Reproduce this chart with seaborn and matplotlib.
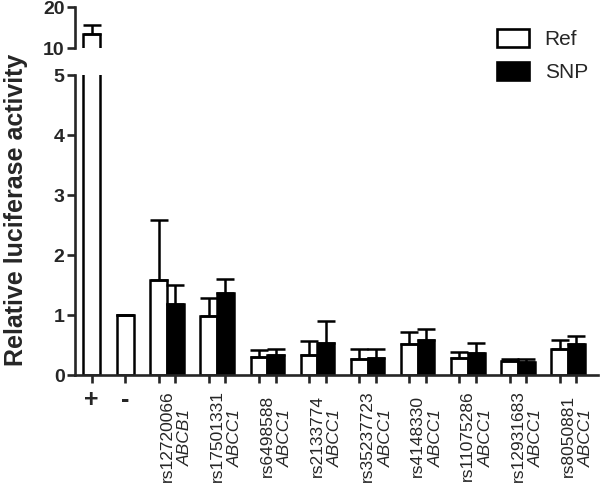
import numpy as np
import pandas as pd
import matplotlib
matplotlib.use("Agg")
import matplotlib.pyplot as plt
import seaborn as sns
from matplotlib.patches import Patch

# controls
ctrl_labels = ["+", "-"]
ctrl_values = [13.4, 1.0]
ctrl_err_top = [15.7, 1.0]

# SNP pairs
snp_ids = ["rs12720066", "rs17501331", "rs6498588", "rs2133774", "rs35237723",
           "rs4148330", "rs11075286", "rs12931683", "rs8050881"]
genes = ["ABCB1", "ABCC1", "ABCC1", "ABCC1", "ABCC1",
         "ABCC1", "ABCC1", "ABCC1", "ABCC1"]
ref_values = [1.58, 0.99, 0.30, 0.33, 0.27, 0.51, 0.29, 0.23, 0.43]
ref_err_top = [2.58, 1.28, 0.41, 0.57, 0.43, 0.72, 0.38, 0.27, 0.58]
snp_values = [1.19, 1.36, 0.34, 0.53, 0.28, 0.59, 0.37, 0.22, 0.52]
snp_err_top = [1.50, 1.60, 0.43, 0.90, 0.43, 0.76, 0.53, 0.27, 0.65]

# x positions: controls at 0 and 2, then pairs with a gap
ctrl_pos = [0, 2]
ref_pos = [4 + 3 * i for i in range(len(snp_ids))]
snp_pos = [p + 1 for p in ref_pos]

rows = []
for p, v in zip(ctrl_pos, ctrl_values):
    rows.append({"pos": p, "value": v, "kind": "Ref"})
for p, v in zip(ref_pos, ref_values):
    rows.append({"pos": p, "value": v, "kind": "Ref"})
for p, v in zip(snp_pos, snp_values):
    rows.append({"pos": p, "value": v, "kind": "SNP"})
df = pd.DataFrame(rows)

err_pos = ctrl_pos + ref_pos + snp_pos
err_val = ctrl_values + ref_values + snp_values
err_top = ctrl_err_top + ref_err_top + snp_err_top
err_up = [t - v for t, v in zip(err_top, err_val)]

sns.set_style("ticks")
plt.rcParams["font.family"] = ["Liberation Sans", "DejaVu Sans"]
plt.rcParams["axes.linewidth"] = 1.9

fig = plt.figure(figsize=(6, 4.83), dpi=100)
ax_lo = fig.add_axes([0.125, 0.2236, 0.872, 0.6211])
ax_hi = fig.add_axes([0.125, 0.9006, 0.872, 0.0849], sharex=ax_lo)

for ax in (ax_lo, ax_hi):
    sns.barplot(data=df, x="pos", y="value", hue="kind", native_scale=True,
                dodge=False, palette={"Ref": "white", "SNP": "black"},
                edgecolor="black", linewidth=1.8, width=1.0, errorbar=None,
                legend=False, ax=ax)
    ax.errorbar(err_pos, err_val, yerr=[np.zeros(len(err_up)), err_up],
                fmt="none", ecolor="black", elinewidth=1.8, capsize=6.5,
                capthick=1.8, zorder=1)
    ax.set_xlim(-1.0, 30.3)
    ax.set_xlabel("")
    ax.set_ylabel("")
    sns.despine(ax=ax)
    ax.tick_params(axis="y", direction="out", length=5.5, width=1.9,
                   labelsize=14, pad=2)

ax_lo.set_ylim(0, 5)
ax_lo.set_yticks([0, 1, 2, 3, 4, 5])
ax_lo.set_yticklabels(["0", "1", "2", "3", "4", "5"], fontweight="bold")
ax_hi.set_ylim(10, 20)
ax_hi.set_yticks([10, 20])
ax_hi.set_yticklabels(["10", "20"], fontweight="bold")
ax_hi.spines["bottom"].set_visible(False)
ax_hi.tick_params(axis="x", bottom=False, labelbottom=False)

# x ticks
all_pos = ctrl_pos + sorted(ref_pos + snp_pos)
ax_lo.set_xticks(all_pos)
ax_lo.set_xticklabels(ctrl_labels + [""] * (len(all_pos) - 2),
                      fontweight="bold", fontsize=18)
ax_lo.tick_params(axis="x", direction="out", length=6, width=1.9, pad=3)

trans = matplotlib.transforms.blended_transform_factory(ax_lo.transData, ax_lo.transAxes)
for rp, sid, g in zip(ref_pos, snp_ids, genes):
    ax_lo.text(rp + 0.5, -0.203, sid, rotation=90, ha="center", va="center",
               fontsize=12.5, transform=trans)
    ax_lo.text(rp + 1.6, -0.21, g, rotation=90, ha="center", va="center",
               fontsize=12.5, fontstyle="italic", transform=trans)

fig.text(0.027, 1 - 210 / 483, "Relative luciferase activity", rotation=90,
         ha="center", va="center", fontsize=18, fontweight="bold")

handles = [Patch(facecolor="white", edgecolor="black", linewidth=1.9, label="Ref"),
           Patch(facecolor="black", edgecolor="black", linewidth=1.9, label="SNP")]
fig.legend(handles=handles, loc="upper left", bbox_to_anchor=(0.828, 0.94),
           frameon=False, fontsize=15, handlelength=1.55, handleheight=0.95,
           handletextpad=0.75, labelspacing=0.6, borderpad=0, borderaxespad=0)

fig.savefig("out.png", dpi=100)
